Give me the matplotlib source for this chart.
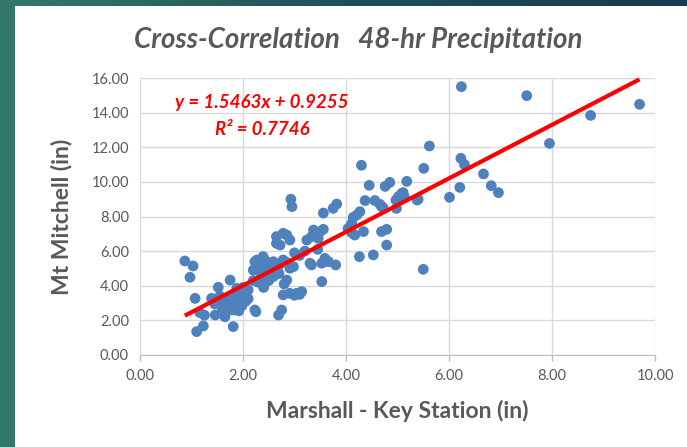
import numpy as np
import matplotlib
matplotlib.use('Agg')
import matplotlib.pyplot as plt
from matplotlib.patches import Rectangle

plt.rcParams['font.family'] = ['Lato', 'DejaVu Sans']

# 48-hr precipitation (in): Marshall (key station) vs Mt Mitchell
marshall = [
    0.87, 1.03, 0.97, 1.07, 1.10, 1.23, 1.16, 1.25, 1.46, 1.59, 1.65, 1.81,
    1.39, 1.52, 1.75, 1.55, 1.45, 1.60, 1.70, 1.78, 1.85, 1.90, 1.95, 2.00,
    2.05, 1.82, 1.92, 1.98, 1.70, 2.10, 1.88, 2.00, 1.60, 1.75, 2.25,
    2.23, 2.20, 2.27, 2.39, 2.46, 2.33, 2.46, 2.59, 2.85, 2.30, 2.40, 2.55,
    2.60, 2.70, 2.59, 2.78, 2.50, 2.65, 2.65, 2.85, 2.91, 2.72, 2.78, 2.93,
    2.95, 2.91, 2.98, 2.78, 2.91, 3.04, 3.14, 2.23, 2.75, 2.69, 2.35, 2.40,
    2.20, 2.10, 2.50, 2.70, 2.85, 2.80,
    3.00, 3.10, 3.24, 3.33, 3.37, 3.50, 3.56, 3.46, 3.33, 3.59, 3.66, 3.53,
    3.53, 3.30, 3.56, 3.75, 3.82, 3.45, 3.20, 3.00, 3.10, 3.80,
    4.30, 4.45, 4.76, 4.85, 5.18, 4.37, 4.56, 4.66, 4.72, 5.08, 5.13, 4.98,
    5.38, 4.27, 4.21, 4.14, 4.11, 4.04, 4.11, 4.17, 4.34, 4.69, 4.79, 4.79,
    4.26, 4.53, 5.02, 4.97, 4.69, 5.11, 5.50,
    5.62, 5.51, 6.24, 7.51, 9.70, 8.75, 7.95, 6.23, 6.30, 6.67, 6.82, 6.96,
    6.21, 6.01, 5.40,
]
mitchell = [
    5.43, 5.14, 4.49, 3.27, 1.35, 1.68, 2.45, 2.30, 2.31, 2.40, 2.21, 1.64,
    3.27, 3.91, 4.33, 3.40, 2.95, 3.00, 3.20, 2.90, 3.50, 3.10, 3.60, 3.30,
    3.10, 2.60, 2.55, 2.85, 2.55, 3.25, 3.85, 3.90, 2.60, 3.00, 2.50,
    5.39, 4.90, 5.49, 5.68, 5.39, 5.01, 4.72, 4.53, 4.33, 4.20, 4.00, 4.90,
    5.30, 5.20, 5.39, 5.49, 5.10, 6.45, 6.84, 6.93, 6.64, 6.35, 7.03, 9.00,
    8.57, 5.01, 5.10, 3.47, 3.56, 3.56, 3.66, 2.60, 2.60, 2.31, 4.50, 3.90,
    4.30, 3.75, 4.30, 4.70, 5.35, 4.10,
    5.90, 5.75, 6.64, 6.84, 7.22, 7.13, 7.26, 6.74, 5.20, 5.58, 5.39, 5.30,
    4.24, 5.30, 8.20, 8.47, 8.72, 6.10, 6.00, 3.45, 3.50, 5.20,
    10.96, 9.80, 9.74, 9.97, 10.03, 8.92, 8.92, 8.70, 8.51, 9.33, 9.15, 8.47,
    8.95, 8.28, 8.09, 7.95, 7.60, 7.31, 7.06, 6.93, 7.13, 7.13, 7.26, 6.35,
    5.68, 5.78, 9.15, 8.95, 8.58, 9.38, 4.95,
    12.07, 10.78, 15.50, 14.98, 14.48, 13.84, 12.22, 11.36, 11.00, 10.46, 9.78, 9.38,
    9.68, 9.11, 9.00,
]

# linear trendline as reported on the chart
slope = 1.5463
intercept = 0.9255
r_squared = 0.7746

x_ticks = np.arange(0, 10.01, 2)
y_ticks = np.arange(0, 16.01, 2)

fig = plt.figure(figsize=(6.87, 4.47), dpi=100)

# slide background: teal gradient, white panel on top
bg = fig.add_axes([0, 0, 1, 1], zorder=-10)
grad = np.linspace(0, 1, 256).reshape(1, -1)
cmap = matplotlib.colors.LinearSegmentedColormap.from_list('slide', ['#327a69', '#1f5059', '#163a4e'])
bg.imshow(grad, aspect='auto', cmap=cmap, extent=[0, 1, 0, 1])
bg.add_patch(Rectangle((15 / 687, 0), 1, 1 - 6 / 447, facecolor='white', edgecolor='none'))
bg.set_xlim(0, 1)
bg.set_ylim(0, 1)
bg.axis('off')

ax = fig.add_axes([140 / 687, 92 / 447, 515 / 687, 277 / 447])
ax.set_facecolor('none')

ax.scatter(marshall, mitchell, s=60, color='#4f81bd', edgecolors='none', zorder=3)

xl = np.array([min(marshall), max(marshall)])
ax.plot(xl, slope * xl + intercept, color='#ff0000', lw=3, solid_capstyle='butt', zorder=4, clip_on=True)

ax.set_xlim(0, 10)
ax.set_ylim(0, 16)
ax.set_xticks(x_ticks)
ax.set_yticks(y_ticks)
ax.set_xticklabels([f'{v:.2f}' for v in x_ticks])
ax.set_yticklabels([f'{v:.2f}' for v in y_ticks])
ax.grid(True, color='#d9d9d9', lw=1)
ax.set_axisbelow(True)
for s in ['top', 'right', 'left']:
    ax.spines[s].set_visible(False)
ax.spines['bottom'].set_color('#bfbfbf')
ax.tick_params(axis='x', colors='#bfbfbf', length=4, width=1, labelcolor='#595959', labelsize=10.5, pad=6)
ax.tick_params(axis='y', length=0, labelcolor='#595959', labelsize=10.5, pad=8)

ax.set_xlabel('Marshall - Key Station (in)', fontsize=16.5, fontweight='bold', color='#595959', labelpad=12)
ax.set_ylabel('Mt Mitchell (in)', fontsize=16.5, fontweight='bold', color='#595959', labelpad=14)

fig.text(358 / 687, 1 - 40 / 447, 'Cross-Correlation   48-hr Precipitation', ha='center', va='center',
         fontsize=20, fontweight='bold', fontstyle='italic', color='#595959')

ax.text(2.37, 14.56, f'y = {slope}x + {intercept}', ha='center', va='center',
        fontsize=13.5, fontweight='bold', fontstyle='italic', color='#ff0000')
ax.text(2.37, 13.0, f'R² = {r_squared}', ha='center', va='center',
        fontsize=13.5, fontweight='bold', fontstyle='italic', color='#ff0000')

fig.savefig('out.png', dpi=100)
